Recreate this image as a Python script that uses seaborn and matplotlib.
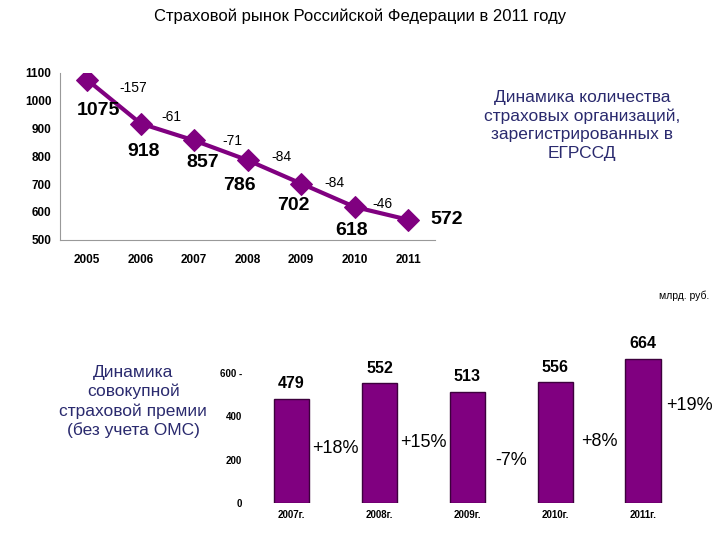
import pandas as pd
import matplotlib.pyplot as plt
import seaborn as sns

# data
years = [2005, 2006, 2007, 2008, 2009, 2010, 2011]
companies = [1075, 918, 857, 786, 702, 618, 572]
company_diffs = ['-157', '-61', '-71', '-84', '-84', '-46']

prem_years = ['2007г.', '2008г.', '2009г.', '2010г.', '2011г.']
premiums = [479, 552, 513, 556, 664]
prem_growth = ['+18%', '+15%', '-7%', '+8%', '+19%']

sns.set_style('white')
plt.rcParams['font.family'] = ['Liberation Sans', 'DejaVu Sans']
plt.rcParams['text.color'] = 'black'
plt.rcParams['xtick.color'] = 'black'
plt.rcParams['ytick.color'] = 'black'

purple = '#800080'
navy = '#2a2a6e'

fig = plt.figure(figsize=(7.2, 5.4), dpi=100)
fig.text(0.5, 0.97, 'Страховой рынок Российской Федерации в 2011 году',
         ha='center', va='center', fontsize=12)

# --- top: number of companies
ax1 = fig.add_axes([0.084, 0.556, 0.52, 0.309])
df1 = pd.DataFrame({'year': years, 'n': companies})
sns.lineplot(data=df1, x='year', y='n', ax=ax1, color=purple, linewidth=3,
             marker='D', markersize=11, markeredgecolor=purple)
ax1.set_xlim(2004.5, 2011.5)
ax1.set_ylim(500, 1100)
ax1.set_xticks(years)
ax1.set_yticks(range(500, 1101, 100))
ax1.set_xlabel('')
ax1.set_ylabel('')
for s in ['top', 'right']:
    ax1.spines[s].set_visible(False)
for s in ['left', 'bottom']:
    ax1.spines[s].set_color('#999999')
ax1.tick_params(axis='both', labelsize=8.5, length=3, color='#999999', direction='out')
ax1.tick_params(axis='x', pad=10, length=0)
ax1.set_xticks([y + 0.5 for y in years[:-1]], minor=True)
ax1.tick_params(axis='x', which='minor', length=3, color='#999999')
for lbl in ax1.get_xticklabels() + ax1.get_yticklabels():
    lbl.set_fontweight('bold')

# value labels
val_off = [(8, -22), (2, -20), (6, -16), (-6, -18), (-6, -16), (-2, -17), (28, 0)]
for x, v, off in zip(years, companies, val_off):
    ax1.annotate(str(v), (x, v), xytext=off, textcoords='offset points',
                 ha='center', va='center', fontsize=14, fontweight='bold')
diff_off = [(14, 10), (3, 11), (8, 7), (5, 11), (5, 9), (1, 7)]
for i, (d, off) in enumerate(zip(company_diffs, diff_off)):
    xm = (years[i] + years[i + 1]) / 2
    ym = (companies[i] + companies[i + 1]) / 2
    ax1.annotate(d, (xm, ym), xytext=off, textcoords='offset points',
                 ha='center', va='center', fontsize=10)

fig.text(0.808, 0.768, 'Динамика количества\nстраховых организаций,\nзарегистрированных в\nЕГРССД',
         ha='center', va='center', fontsize=12.5, color=navy, linespacing=1.3)

# --- bottom: premiums
fig.text(0.985, 0.452, 'млрд. руб.', ha='right', va='center', fontsize=7.5)
fig.text(0.185, 0.256, 'Динамика\nсовокупной\nстраховой премии\n(без учета ОМС)',
         ha='center', va='center', fontsize=12.5, color=navy, linespacing=1.3)

ax2 = fig.add_axes([0.344, 0.0685, 0.61, 0.281])
df2 = pd.DataFrame({'year': prem_years, 'prem': premiums})
sns.barplot(data=df2, x='year', y='prem', ax=ax2, color=purple, width=0.4,
            edgecolor='#3d003d', linewidth=1, saturation=1)
ax2.set_ylim(0, 700)
ax2.set_xlim(-0.5, 4.5)
ax2.set_yticks([0, 200, 400, 600])
ax2.set_yticklabels(['0', '200', '400', '600 -'])
ax2.set_xlabel('')
ax2.set_ylabel('')
sns.despine(ax=ax2, left=True, bottom=True)
ax2.tick_params(axis='both', labelsize=7, length=0)
ax2.tick_params(axis='y', pad=4)
ax2.tick_params(axis='x', pad=5)
for lbl in ax2.get_xticklabels() + ax2.get_yticklabels():
    lbl.set_fontweight('bold')

for i, v in enumerate(premiums):
    ax2.annotate(str(v), (i, v), xytext=(0, 11), textcoords='offset points',
                 ha='center', va='center', fontsize=11.5, fontweight='bold')
pct_y = [253, 281, 198, 286, 452]
pct_dx = [0.5, 0.5, 0.5, 0.5, 0.53]
for i, (p, y, dx) in enumerate(zip(prem_growth, pct_y, pct_dx)):
    ax2.text(i + dx, y, p, ha='center', va='center', fontsize=13)

fig.savefig('out.png', dpi=100)
